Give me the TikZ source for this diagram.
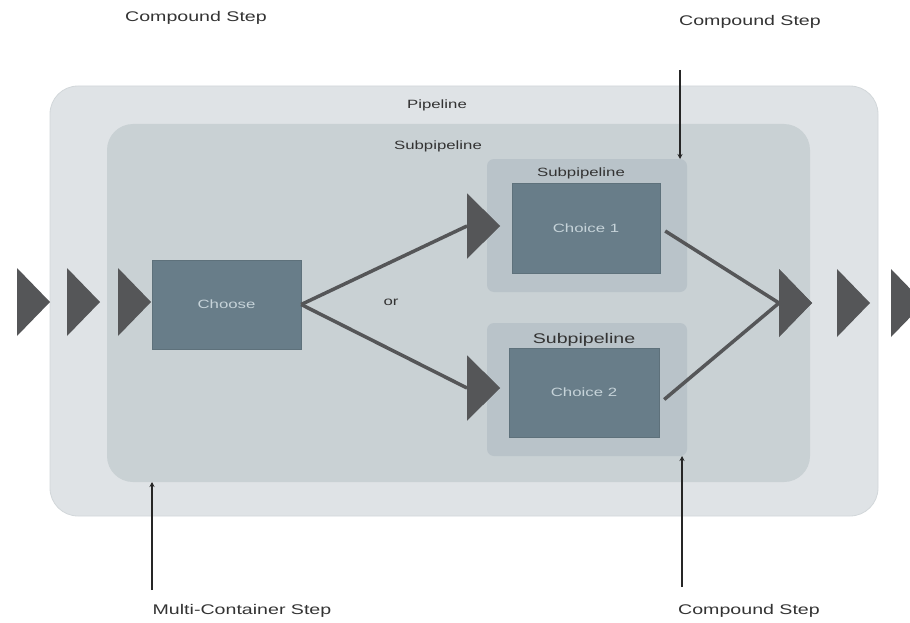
\documentclass[tikz,border=0pt]{standalone}
\usepackage{fontspec}
\newfontfamily\diafont[FakeStretch=1.4]{Liberation Sans}
\usetikzlibrary{shapes.geometric,arrows.meta}
\definecolor{pipefill}{HTML}{DFE3E6}
\definecolor{pipeedge}{HTML}{D2D7DA}
\definecolor{subfill}{HTML}{C9D1D4}
\definecolor{choicefill}{HTML}{B9C3C9}
\definecolor{boxfill}{HTML}{687D89}
\definecolor{boxtext}{HTML}{C6D3D9}
\definecolor{flow}{HTML}{555658}
\definecolor{labeltext}{HTML}{333333}
\tikzset{
  container/.style={rounded corners=26pt, fill=subfill, inner sep=0pt, outer sep=0pt},
  steptitle/.style={font=\diafont\fontsize{12}{14}\selectfont, text=labeltext, inner sep=0pt},
  callout/.style={font=\diafont\fontsize{14}{16}\selectfont, text=labeltext, inner sep=0pt},
  stepbox/.style={fill=boxfill, draw=boxfill!90!black, line width=0.4pt, inner sep=0pt,
    font=\diafont\fontsize{12}{14}\selectfont, text=boxtext},
  flowhead/.style={isosceles triangle, isosceles triangle stretches, fill=flow,
    minimum height=33pt, minimum width=68pt, inner sep=0pt, outer sep=0pt, anchor=apex},
  smallhead/.style={flowhead, minimum width=65pt},
  flowline/.style={draw=flow, line width=3.5pt},
  pointer/.style={draw=black!85, line width=1.4pt, -{Stealth[length=5pt,width=5pt]}},
}
\begin{document}
\begin{tikzpicture}[x=1pt,y=-1pt]
\useasboundingbox (0,0) rectangle (910,623);
\clip (0,0) rectangle (910,623);

% containers
\node[container, fill=pipefill, draw=pipeedge, line width=0.8pt, rounded corners=28pt,
  minimum width=828pt, minimum height=430pt] (pipe) at (464,301) {};
\node[container, minimum width=703pt, minimum height=358pt] (subpipe) at (458.5,303) {};
\node[container, fill=choicefill, rounded corners=7pt,
  minimum width=200pt, minimum height=133pt] (subone) at (587,225.5) {};
\node[container, fill=choicefill, rounded corners=7pt,
  minimum width=200pt, minimum height=133pt] (subtwo) at (587,389.5) {};

\node[steptitle] (pipetitle) at (437,105) {Pipeline};
\node[steptitle] (subtitle) at (438,146) {Subpipeline};
\node[steptitle] (onetitle) at (581,173) {Subpipeline};
\node[steptitle, font=\diafont\fontsize{14}{16}\selectfont] (twotitle) at (584,340) {Subpipeline};

% steps
\node[stepbox, minimum width=149pt, minimum height=89pt] (choose) at (226.5,304.5) {Choose};
\node[stepbox, minimum width=148pt, minimum height=90pt] (choiceone) at (586,228) {Choice 1};
\node[stepbox, minimum width=150pt, minimum height=89pt] (choicetwo) at (584,392.5) {Choice 2};
\node[steptitle] (or) at (391,302) {or};

% flow
\node[flowhead] (inA) at (50,302) {};
\node[flowhead] (inB) at (100,302) {};
\node[flowhead] (inC) at (151,302) {};
\node[smallhead] (toone) at (500,226) {};
\node[smallhead] (totwo) at (500,388) {};
\node[flowhead] (outA) at (812,303) {};
\node[flowhead] (outB) at (870,303) {};
\node[flowhead] (outC) at (924,303) {};
\path[flowline] (choose.east) -- (toone.west);
\path[flowline] (choose.east) -- (totwo.west);
\path[flowline] ([xshift=5pt,yshift=-3pt]choiceone.east) -- (outA.west);
\path[flowline] ([xshift=5pt,yshift=-7pt]choicetwo.east) -- (outA.west);
\node[smallhead] at (toone.apex) {};
\node[smallhead] at (totwo.apex) {};
\node[flowhead] at (outA.apex) {};

% callouts
\node[callout] (outer) at (196,18) {Compound Step};
\node[callout] (topright) at (750,22) {Compound Step};
\node[callout] (multi) at (242,611) {Multi-Container Step};
\node[callout] (lowright) at (749,611) {Compound Step};
\coordinate (ptop) at (680,70);
\coordinate (pleft) at (152,590);
\coordinate (pright) at (682,587);
\draw[pointer] (ptop) -- (ptop |- subone.north);
\draw[pointer] (pleft) -- (pleft |- subpipe.south);
\draw[pointer] (pright) -- (pright |- subtwo.south);
\end{tikzpicture}
\end{document}
